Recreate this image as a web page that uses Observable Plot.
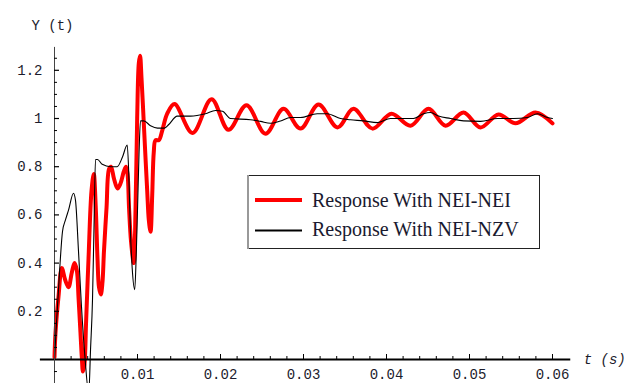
<!DOCTYPE html>
<html>
<head>
<meta charset="utf-8">
<script src="https://cdn.jsdelivr.net/npm/d3@7"></script>
<script src="https://cdn.jsdelivr.net/npm/@observablehq/plot@0.6"></script>
<style>
  html, body { margin: 0; padding: 0; background: #fff; overflow: hidden; }
  #wrap { position: relative; width: 632px; height: 383px; }
</style>
</head>
<body>
<div id="wrap"></div>
<script>
// ---- data ----
const seriesNames = ["Response With NEI-NEI", "Response With NEI-NZV"];
const seriesColors = ["#ff0000", "#000000"];

const redTime = [0.00000,0.00012,0.00048,0.00088,0.00129,0.00169,0.00208,0.00241,0.00269,0.00289,0.00310,0.00329,0.00343,0.00361,0.00380,0.00410,0.00446,0.00473,0.00496,0.00518,0.00536,0.00558,0.00578,0.00596,0.00627,0.00657,0.00681,0.00717,0.00759,0.00795,0.00835,0.00861,0.00880,0.00898,0.00922,0.00955,0.00976,0.00996,0.01016,0.01031,0.01048,0.01076,0.01096,0.01117,0.01136,0.01157,0.01177,0.01196,0.01217,0.01257,0.01298,0.01358,0.01446,0.01663,0.01892,0.02096,0.02313,0.02542,0.02759,0.02964,0.03181,0.03410,0.03602,0.03831,0.04060,0.04289,0.04506,0.04711,0.04928,0.05133,0.05349,0.05554,0.05795,0.06000];
const redValue = [0.01,0.11,0.26,0.38,0.33,0.30,0.36,0.40,0.37,0.26,0.13,0.01,-0.05,-0.02,0.15,0.42,0.70,0.77,0.64,0.42,0.30,0.27,0.32,0.45,0.63,0.79,0.80,0.75,0.71,0.73,0.78,0.80,0.77,0.63,0.49,0.40,0.62,1.00,1.23,1.26,1.17,0.98,0.84,0.70,0.58,0.53,0.68,0.86,0.91,0.91,0.95,1.02,1.06,0.94,1.08,0.953,1.055,0.937,1.04,0.958,1.058,0.963,1.04,0.958,1.02,0.97,1.04,0.97,1.025,0.963,1.017,0.98,1.025,0.98];

const blackTime = [0.00000,0.00024,0.00060,0.00096,0.00133,0.00169,0.00229,0.00253,0.00289,0.00325,0.00367,0.00413,0.00434,0.00458,0.00476,0.00494,0.00518,0.00575,0.00675,0.00755,0.00819,0.00876,0.00895,0.00916,0.00936,0.00967,0.00986,0.01000,0.01018,0.01036,0.01076,0.01157,0.01241,0.01325,0.01377,0.01478,0.01639,0.01819,0.01940,0.02024,0.02120,0.02361,0.02482,0.02602,0.02723,0.02843,0.02964,0.03165,0.03286,0.03446,0.03566,0.03723,0.03892,0.04048,0.04325,0.04446,0.04530,0.04627,0.04771,0.04928,0.05133,0.05337,0.05530,0.05699,0.05819,0.05940,0.06000];
const blackValue = [0.00,0.15,0.36,0.53,0.58,0.62,0.69,0.66,0.45,0.22,0.01,-0.14,0.04,0.25,0.55,0.83,0.83,0.81,0.80,0.80,0.84,0.89,0.77,0.52,0.38,0.29,0.45,0.62,0.85,0.99,0.99,0.97,0.96,0.96,0.975,1.01,1.01,1.02,1.033,1.03,1.00,0.995,0.988,0.98,0.99,1.004,1.004,1.02,1.02,1.00,0.995,0.99,0.983,1.00,1.00,1.02,1.025,1.01,1.00,0.99,0.988,1.00,1.00,1.004,1.02,1.004,1.00];

const xTickValues = [0.01, 0.02, 0.03, 0.04, 0.05, 0.06];
const xTickLabels = ["0.01", "0.02", "0.03", "0.04", "0.05", "0.06"];
const yTickValues = [0.2, 0.4, 0.6, 0.8, 1, 1.2];
const yTickLabels = ["0.2", "0.4", "0.6", "0.8", "1", "1.2"];
const xAxisExtent = [-0.0017, 0.0622];
const yAxisExtent = [-0.1, 1.295];
const xLabel = "t (s)";
const yLabel = "Y (t)";

// ---- build ----
const red = redTime.map((t, i) => ({t, v: redValue[i]}));
const black = blackTime.map((t, i) => ({t, v: blackValue[i]}));
const xMinor = d3.range(1, 31).map(i => +(i * 0.002).toFixed(4)).filter(v => !xTickValues.some(m => Math.abs(m - v) < 1e-9));
const yMinor = d3.range(-1, 26).map(i => +(i * 0.05).toFixed(3)).filter(v => v !== 0 && !yTickValues.some(m => Math.abs(m - v) < 1e-9));

const xDomain = [0, 0.06], xRange = [54, 552];
const yDomain = [0, 1], yRange = [359, 118];
const xUnitPerPx = (xDomain[1] - xDomain[0]) / (xRange[1] - xRange[0]);
const yUnitPerPx = (yDomain[1] - yDomain[0]) / (yRange[0] - yRange[1]);

const monoFont = "'Liberation Mono', 'DejaVu Sans Mono', monospace";
const textColor = "#1c1c2c";

const chart = Plot.plot({
  width: 632,
  height: 383,
  margin: 0,
  style: {background: "#ffffff", overflow: "hidden"},
  x: {domain: xDomain, range: xRange, axis: null},
  y: {domain: yDomain, range: yRange, axis: null},
  marks: [
    Plot.line(red, {x: "t", y: "v", stroke: seriesColors[0], strokeWidth: 4, curve: "catmull-rom", clip: true}),
    Plot.line(black, {x: "t", y: "v", stroke: seriesColors[1], strokeWidth: 1.1, curve: "monotone-x", clip: true}),
    // axes lines
    Plot.ruleY([0], {x1: xAxisExtent[0], x2: xAxisExtent[1], stroke: "#000", strokeWidth: 2}),
    Plot.ruleX([0], {y1: yAxisExtent[0], y2: yAxisExtent[1], stroke: "#444", strokeWidth: 1}),
    // x ticks (pointing up)
    Plot.ruleX(xTickValues, {x: d => d, y1: 0, y2: 5 * yUnitPerPx, stroke: "#000", strokeWidth: 1}),
    Plot.ruleX(xMinor, {x: d => d, y1: 0, y2: 3 * yUnitPerPx, stroke: "#000", strokeWidth: 1}),
    // y ticks (pointing right)
    Plot.ruleY(yTickValues, {y: d => d, x1: 0, x2: 5 * xUnitPerPx, stroke: "#000", strokeWidth: 1.2}),
    Plot.ruleY(yMinor, {y: d => d, x1: 0, x2: 3 * xUnitPerPx, stroke: "#000", strokeWidth: 1}),
    // tick labels
    Plot.text(xTickValues, {x: d => d, y: 0, text: (d, i) => xTickLabels[i], dy: 15, fontFamily: monoFont, fontSize: 14, fill: textColor}),
    Plot.text(yTickValues, {x: 0, y: d => d, text: (d, i) => yTickLabels[i], dx: -12, textAnchor: "end", fontFamily: monoFont, fontSize: 14, fill: textColor}),
    // axis labels
    Plot.text([yLabel], {frameAnchor: "top-left", dx: 31, dy: 20, textAnchor: "start", fontFamily: monoFont, fontSize: 14, fill: textColor}),
    Plot.text([xLabel], {x: xAxisExtent[1], y: 0, dx: 13, textAnchor: "start", fontFamily: monoFont, fontSize: 14, fontStyle: "italic", fill: textColor})
  ]
});
document.getElementById("wrap").appendChild(chart);

// ---- legend (overlay inside the plot area) ----
const leg = d3.select("#wrap").append("svg")
  .attr("width", 296).attr("height", 77)
  .style("position", "absolute").style("left", "246px").style("top", "174px");
leg.append("rect").attr("x", 1.5).attr("y", 1.5).attr("width", 292).attr("height", 73)
  .attr("fill", "#fff").attr("stroke", "#222").attr("stroke-width", 1);
leg.append("line").attr("x1", 2).attr("x2", 2).attr("y1", 1).attr("y2", 75)
  .attr("stroke", "#999").attr("stroke-width", 2);
const rowsY = [26, 56.5];
const baseY = [33.3, 61.7];
seriesNames.forEach((name, i) => {
  leg.append("line").attr("x1", 9).attr("x2", 56).attr("y1", rowsY[i]).attr("y2", rowsY[i])
    .attr("stroke", seriesColors[i]).attr("stroke-width", i === 0 ? 4 : 2);
  leg.append("text").attr("x", 66).attr("y", baseY[i]).text(name)
    .attr("font-family", "'Liberation Serif', 'DejaVu Serif', serif").attr("font-size", 20)
    .attr("fill", "#1a1a30");
});
</script>
</body>
</html>
